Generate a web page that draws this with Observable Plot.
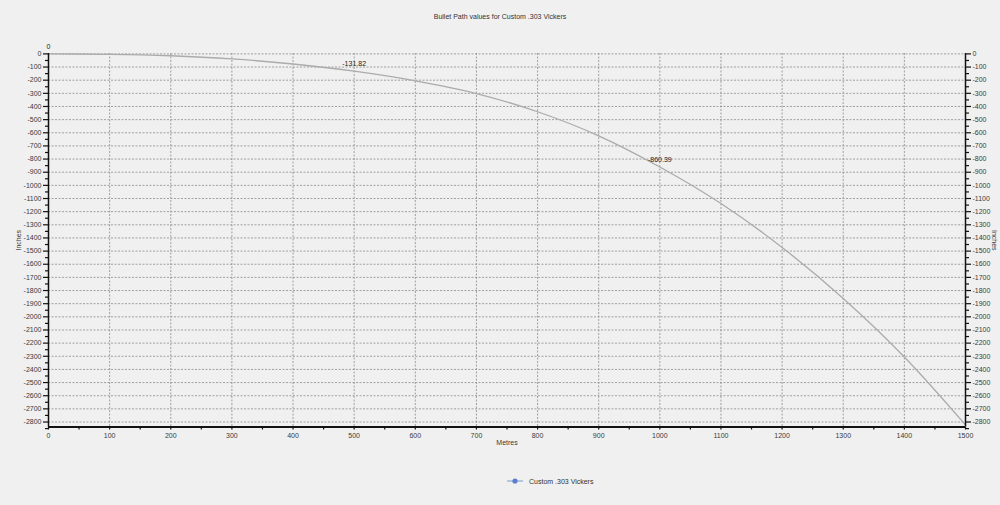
<!DOCTYPE html>
<html>
<head>
<meta charset="utf-8">
<script src="https://cdn.jsdelivr.net/npm/d3@7"></script>
<script src="https://cdn.jsdelivr.net/npm/@observablehq/plot@0.6"></script>
<style>
  html, body { margin: 0; padding: 0; background: #f0f0f0; width: 1000px; height: 505px; overflow: hidden; }
  body { position: relative; font-family: "Liberation Sans", Arial, sans-serif; }
  #title { position: absolute; top: 13px; left: 0; width: 1000px; text-align: center; font-size: 7px; color: #333; }
  #chart { position: absolute; top: 30px; left: 0; }
  #legend { position: absolute; top: 476px; left: 506px; font-size: 7px; color: #333; display: flex; align-items: center; }
  #legend svg { margin-right: 5px; }
</style>
</head>
<body>
<div id="title">Bullet Path values for Custom .303 Vickers</div>
<div id="chart"></div>
<div id="legend"><svg width="18" height="10"><line x1="1" x2="17" y1="5" y2="5" stroke="#7a9ad0" stroke-width="1"/><circle cx="9" cy="5" r="2.6" fill="#5b7fcf"/></svg><span>Custom .303 Vickers</span></div>
<script>
// Distance (metres)
const metres = [0, 100, 200, 300, 400, 500, 600, 700, 800, 900, 1000, 1100, 1200, 1300, 1400, 1500];
// Bullet path (inches)
const inches = [0, -3, -14, -38, -77, -131.82, -205, -302, -440, -623, -860.39, -1138, -1472, -1860, -2305, -2822];
// Points that carry a value label
const labelled = [0, 500, 1000];
// Tick values
const xTicks = d3.range(0, 1501, 100);
const xMinor = d3.range(50, 1501, 100);
const yTicks = d3.range(0, -2801, -100);
const yMinor = d3.range(-50, -2851, -100);

const data = metres.map((m, i) => ({m, v: inches[i]}));
const labels = data.filter(d => labelled.includes(d.m));
const fmt = d => String(d);
const blank = () => "";
const axisCol = "#111";
const txtCol = "#3a3a3a";

const chart = Plot.plot({
  width: 1000,
  height: 440,
  marginLeft: 48,
  marginRight: 35,
  marginTop: 23,
  marginBottom: 43.5,
  style: {background: "transparent", fontFamily: "'Liberation Sans', Arial, sans-serif", fontSize: "7px", overflow: "visible"},
  x: {domain: [0, 1500]},
  y: {domain: [-2838, 3]},
  marks: [
    Plot.gridX(xTicks.filter(d => d > 0 && d < 1500), {stroke: "#8c8c8c", strokeOpacity: 1, strokeDasharray: "2,1.5", strokeWidth: 0.8}),
    Plot.gridY(yTicks, {stroke: "#8c8c8c", strokeOpacity: 1, strokeDasharray: "2,1.5", strokeWidth: 0.8}),
    Plot.line(data, {x: "m", y: "v", stroke: "#ababab", strokeWidth: 1.3, curve: "monotone-x"}),
    Plot.text(labels, {x: "m", y: "v", text: d => fmt(d.v), dy: -7, fill: "#222", fontSize: 7}),
    // axis lines
    Plot.ruleX([0], {stroke: axisCol, strokeWidth: 1.5}),
    Plot.ruleX([1500], {stroke: axisCol, strokeWidth: 1.5}),
    Plot.ruleY([-2838], {stroke: axisCol, strokeWidth: 2}),
    // left axis
    Plot.axisY({anchor: "left", ticks: yTicks, tickFormat: fmt, tickSize: 5, tickPadding: 2, stroke: axisCol, strokeWidth: 1.2, fill: txtCol, label: null}),
    Plot.axisY({anchor: "left", ticks: yMinor, tickFormat: blank, tickSize: 3, stroke: axisCol, strokeWidth: 1.2, label: null}),
    // right axis
    Plot.axisY({anchor: "right", ticks: yTicks, tickFormat: fmt, tickSize: 5, tickPadding: 2, stroke: axisCol, strokeWidth: 1.2, fill: txtCol, label: null}),
    Plot.axisY({anchor: "right", ticks: yMinor, tickFormat: blank, tickSize: 3, stroke: axisCol, strokeWidth: 1.2, label: null}),
    // bottom axis
    Plot.axisX({anchor: "bottom", ticks: xTicks, tickFormat: fmt, tickSize: 3, tickPadding: 3, stroke: axisCol, strokeWidth: 1.2, fill: txtCol, label: null}),
    Plot.axisX({anchor: "bottom", ticks: xMinor, tickFormat: blank, tickSize: 3, stroke: axisCol, strokeWidth: 1.2, label: null}),
    // axis titles
    Plot.text(["Metres"], {frameAnchor: "bottom", dy: 17.5, fill: txtCol, fontSize: 7}),
    Plot.text(["Inches"], {frameAnchor: "left", dx: -30, rotate: -90, textAnchor: "middle", fill: txtCol, fontSize: 7}),
    Plot.text(["Inches"], {frameAnchor: "right", dx: 29, rotate: 90, textAnchor: "middle", fill: txtCol, fontSize: 7})
  ]
});
document.getElementById("chart").appendChild(chart);
</script>
</body>
</html>
